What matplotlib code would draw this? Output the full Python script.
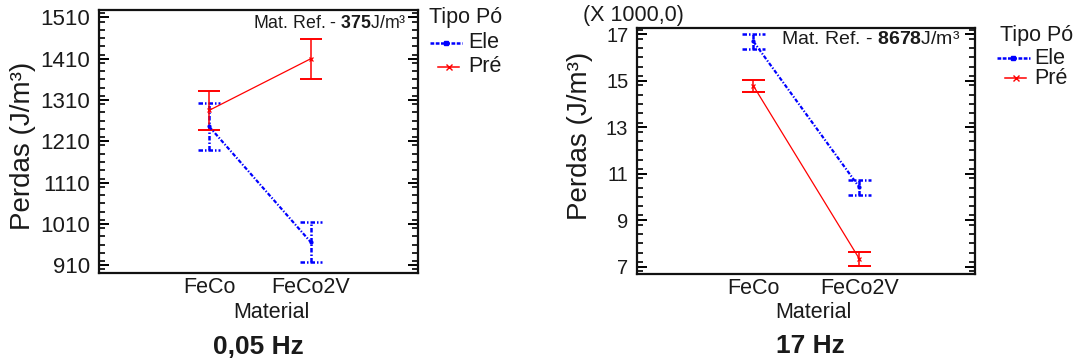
import matplotlib
matplotlib.use("Agg")
import matplotlib.pyplot as plt
from matplotlib.lines import Line2D
from matplotlib.ticker import MultipleLocator, FixedLocator, FuncFormatter
import numpy as np

plt.rcParams['font.family'] = ['Liberation Sans', 'DejaVu Sans']
plt.rcParams['mathtext.fontset'] = 'custom'
plt.rcParams['mathtext.rm'] = 'Liberation Sans'
plt.rcParams['mathtext.bf'] = 'Liberation Sans:bold'

# ---------------- data ----------------
materials = ["FeCo", "FeCo2V"]
groups = ["Ele", "Pré"]

# 0.05 Hz (J/m3)
ele_005 = [1246, 966]
ele_005_err = [58, 49]
pre_005 = [1285, 1410]
pre_005_err = [48, 48]
ref_005 = "375"
yticks_005 = [910, 1010, 1110, 1210, 1310, 1410, 1510]

# 17 Hz (x 1000 J/m3)
ele_17 = [16.69, 10.41]
ele_17_err = [0.31, 0.31]
pre_17 = [14.78, 7.33]
pre_17_err = [0.26, 0.30]
ref_17 = "8678"
yticks_17 = [7, 9, 11, 13, 15, 17]

TXT = '#1a1a1a'
BLUE = '#0000ff'
RED = '#ff0000'
blue_ls = (0, (1.8, 0.8, 0.6, 0.8))

fig = plt.figure(figsize=(10.83, 3.62), dpi=100)

def px2fig(x0, y0, x1, y1):
    W, H = 1083, 362
    return [x0 / W, 1 - y1 / H, (x1 - x0) / W, (y1 - y0) / H]

def draw(ax, ele, ele_err, pre, pre_err, xlim, ylim, yticks, minor, ytick_fs):
    x = np.arange(len(materials))
    cap = 0.11
    ele = np.asarray(ele); ele_err = np.asarray(ele_err)
    pre = np.asarray(pre); pre_err = np.asarray(pre_err)
    # Ele
    ax.plot(x, ele, color=BLUE, lw=1.6, linestyle=blue_ls, marker='.', ms=4, zorder=3)
    ax.vlines(x, ele - ele_err, ele + ele_err, colors=BLUE, lw=1.8, linestyles=[blue_ls])
    ax.hlines(ele + ele_err, x - cap, x + cap, colors=BLUE, lw=1.8, linestyles=[blue_ls])
    ax.hlines(ele - ele_err, x - cap, x + cap, colors=BLUE, lw=1.8, linestyles=[blue_ls])
    # Pré
    ax.plot(x, pre, color=RED, lw=0.9, marker='x', ms=3.5, mew=0.9, zorder=4)
    ax.vlines(x, pre - pre_err, pre + pre_err, colors=RED, lw=1.1)
    ax.hlines(pre + pre_err, x - cap, x + cap, colors=RED, lw=1.4)
    ax.hlines(pre - pre_err, x - cap, x + cap, colors=RED, lw=1.4)

    ax.set_xlim(*xlim)
    ax.set_ylim(*ylim)
    ax.set_xticks(x)
    ax.set_xticklabels(materials, fontsize=15.5, color=TXT)
    ax.yaxis.set_major_locator(FixedLocator(yticks))
    ax.yaxis.set_minor_locator(MultipleLocator(minor))
    ax.set_yticklabels([str(t) for t in yticks], fontsize=ytick_fs, color=TXT)
    ax.tick_params(axis='x', length=0, pad=3)
    ax.tick_params(axis='y', which='major', direction='in', length=7, width=1.4,
                   left=True, right=True, pad=6)
    ax.tick_params(axis='y', which='minor', direction='in', length=4, width=1.2,
                   left=True, right=True)
    for s in ax.spines.values():
        s.set_linewidth(1.6)
        s.set_color('#111111')

def legend(x_title, y_title, x_text, y_ele, y_pre, ele_line, pre_line):
    W, H = 1083, 362
    fig.text(x_title / W, 1 - y_title / H, "Tipo Pó", fontsize=15.5, color=TXT,
             ha='left', va='center')
    fig.text(x_text / W, 1 - y_ele / H, "Ele", fontsize=15.5, color=TXT, ha='left', va='center')
    fig.text(x_text / W, 1 - y_pre / H, "Pré", fontsize=15.5, color=TXT, ha='left', va='center')
    l1 = Line2D([ele_line[0] / W, ele_line[1] / W], [1 - y_ele / H] * 2, transform=fig.transFigure,
                color=BLUE, lw=1.8, linestyle=(0, (1.5, 0.6)))
    m1 = Line2D([(ele_line[0] + ele_line[1]) / 2 / W], [1 - y_ele / H], transform=fig.transFigure,
                color=BLUE, marker='s', ms=3)
    l2 = Line2D([pre_line[0] / W, pre_line[1] / W], [1 - y_pre / H] * 2, transform=fig.transFigure,
                color=RED, lw=1.1)
    m2 = Line2D([(pre_line[0] + pre_line[1]) / 2 / W], [1 - y_pre / H], transform=fig.transFigure,
                color=RED, marker='x', ms=4, mew=1.0)
    for l in (l1, m1, l2, m2):
        fig.add_artist(l)

# ---------- left: 0.05 Hz ----------
ax1 = fig.add_axes(px2fig(98.5, 10, 418.3, 272.7))
draw(ax1, ele_005, ele_005_err, pre_005, pre_005_err, (-1.088, 2.058), (892, 1528),
     yticks_005, 20, 16)
ax1.set_ylabel("Perdas (J/m³)", fontsize=20, color=TXT, va='center')
ax1.yaxis.set_label_coords(-0.235, 0.484)
ax1.set_xlabel("Material", fontsize=15.5, color=TXT, va='center')
ax1.xaxis.set_label_coords(0.540, -0.152)
ax1.text(0.9637, 0.9468, "Mat. Ref. - $\\mathbf{" + ref_005 + "}$J/m³", transform=ax1.transAxes,
         ha='right', va='center', fontsize=12.8, color=TXT)
legend(429, 18, 468, 43, 67, (430, 462), (438, 459))
fig.text(258.7 / 1083, 1 - 346.7 / 362, "0,05 Hz", fontsize=19, fontweight='bold',
         color=TXT, ha='center', va='center')

# ---------- right: 17 Hz ----------
ax2 = fig.add_axes(px2fig(636.7, 27.7, 975, 274.3))
draw(ax2, ele_17, ele_17_err, pre_17, pre_17_err, (-1.1, 2.09), (6.67, 17.28),
     yticks_17, 0.4, 14.5)
ax2.set_ylabel("Perdas (J/m³)", fontsize=20, color=TXT, va='center')
ax2.yaxis.set_label_coords(-0.1676, 0.5616)
ax2.set_xlabel("Material", fontsize=15.5, color=TXT, va='center')
ax2.xaxis.set_label_coords(0.521, -0.153)
ax2.text(0.9577, 0.954, "Mat. Ref. - $\\mathbf{" + ref_17 + "}$J/m³", transform=ax2.transAxes,
         ha='right', va='center', fontsize=14, color=TXT)
fig.text(633.3 / 1083, 1 - 15 / 362, "(X 1000,0)", fontsize=15.5, color=TXT,
         ha='center', va='center')
legend(1000, 35, 1034, 58, 78, (997, 1030), (1005, 1026))
fig.text(810.5 / 1083, 1 - 346 / 362, "17 Hz", fontsize=19, fontweight='bold',
         color=TXT, ha='center', va='center')

fig.savefig("out.png", dpi=100)
